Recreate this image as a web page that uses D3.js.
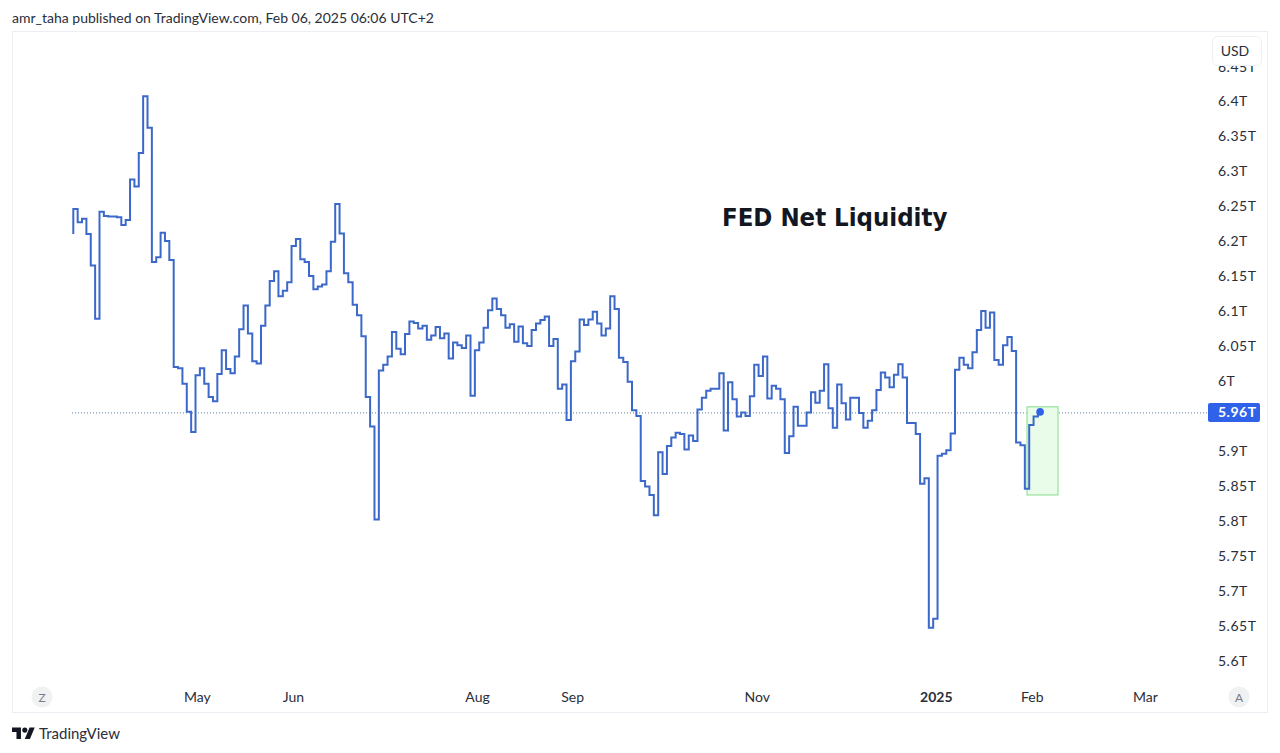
<!DOCTYPE html>
<html><head><meta charset="utf-8">
<script src="https://cdn.jsdelivr.net/npm/d3@7"></script>
<style>
html,body{margin:0;padding:0;background:#fff;overflow:hidden}
svg{display:block}
text{font-family:Lato,Roboto,"Liberation Sans",sans-serif}
</style></head><body>
<svg id="c" width="1280" height="753"></svg>
<script>
const netLiquidity = [
6.209,6.245,6.226,6.231,6.209,6.164,6.088,6.241,6.235,6.234,6.234,6.233,6.222,6.229,6.287,6.277,6.325,6.406,6.361,6.169,6.176,6.211,6.199,6.172,
6.019,6.017,5.995,5.955,5.926,6.007,6.017,5.995,5.976,5.970,6.009,6.043,6.016,6.010,6.034,6.073,6.107,6.067,6.027,6.024,6.078,6.107,
6.142,6.156,6.120,6.128,6.140,6.192,6.202,6.173,6.169,6.149,6.130,6.134,6.137,6.156,6.198,6.252,6.210,6.153,6.140,6.108,6.093,6.063,5.976,5.934,5.801,
6.014,6.022,6.034,6.069,6.045,6.037,6.066,6.084,6.082,6.074,6.078,6.058,6.064,6.076,6.060,6.067,6.031,6.054,6.050,6.046,6.064,5.978,6.043,6.054,6.075,6.100,6.117,6.102,6.093,6.075,6.080,6.055,6.077,6.053,6.049,6.072,6.081,6.086,6.091,6.049,6.059,5.988,5.994,5.943,6.027,6.041,6.087,6.079,6.087,6.098,6.081,6.064,6.074,6.120,6.102,6.032,6.026,5.998,5.957,5.949,5.856,5.848,5.836,5.807,5.897,5.866,5.906,5.918,5.925,5.923,5.901,5.921,5.913,5.958,
5.975,5.985,5.988,5.988,6.010,5.928,5.997,5.973,5.948,5.954,5.949,5.977,6.022,6.006,6.034,5.974,5.992,5.988,5.973,5.896,5.920,5.962,5.935,5.935,5.954,5.983,5.968,5.985,6.023,5.960,5.932,5.994,5.967,5.944,5.975,5.975,5.953,5.932,5.942,5.957,5.986,6.011,6.004,5.990,6.008,6.023,6.004,5.939,5.939,5.923,5.852,5.860,5.646,5.659,5.892,5.895,5.900,5.924,6.015,6.032,6.022,6.017,6.040,6.072,6.099,6.075,6.097,6.029,6.022,6.050,6.062,6.042,5.911,5.907,5.845,5.936,5.948,5.954
];
const yTicks = [5.6,5.65,5.7,5.75,5.8,5.85,5.9,5.95,6,6.05,6.1,6.15,6.2,6.25,6.3,6.35,6.4,6.45];
const yTickLabels = ["5.6T","5.65T","5.7T","5.75T","5.8T","5.85T","5.9T",null,"6T","6.05T","6.1T","6.15T","6.2T","6.25T","6.3T","6.35T","6.4T","6.45T"];
const monthIdx = [28.3,50.3,92.5,114.3,156.6,197.6,219.6,245.5];
const monthLabels = ["May","Jun","Aug","Sep","Nov","2025","Feb","Mar"];
const lastValue = 5.954, lastLabel = "5.96T", lastIdx = 221.5;
const boxValues = [5.962,5.836];
const boxIdx = [218.5,225.6];
const title = "FED Net Liquidity";
const header = "amr_taha published on TradingView.com, Feb 06, 2025 06:06 UTC+2";

const svg = d3.select("#c");
const x = d3.scaleLinear().domain([0, netLiquidity.length-1]).range([73.3,1042.3]);
const y = d3.scaleLinear().domain([5.6,6.4]).range([660,100.5]);

svg.append("text").attr("x",12).attr("y",23).attr("font-size",14).attr("fill","#2a2e39").text(header);
svg.append("rect").attr("x",12.5).attr("y",31.5).attr("width",1255).attr("height",681)
  .attr("fill","#fff").attr("stroke","#eceef3");

// y axis
const yAxis = d3.axisRight(y).tickValues(yTicks.filter((d,i)=>yTickLabels[i]))
  .tickSize(0).tickFormat(d=>yTickLabels[yTicks.indexOf(d)]);
const yg = svg.append("g").attr("transform","translate(1218,1)").call(yAxis);
yg.select(".domain").remove();
yg.selectAll("text").attr("x",0).attr("text-anchor","start").attr("font-size",14)
  .attr("letter-spacing",0.5).attr("fill","#2a2e39").style("font-family","Lato,sans-serif");

// x axis
const xAxis = d3.axisBottom(x).tickValues(monthIdx).tickSize(0)
  .tickFormat(d=>monthLabels[monthIdx.indexOf(d)]);
const xg = svg.append("g").attr("transform","translate(0,690)").call(xAxis);
xg.select(".domain").remove();
xg.selectAll("text").attr("y",0).attr("dy","0.85em").attr("font-size",14)
  .attr("fill","#2a2e39").style("font-family","Lato,sans-serif")
  .attr("font-weight",(d,i)=>monthLabels[i]==="2025"?"700":"400");

// last value dotted line
svg.append("line").attr("x1",72).attr("x2",1208).attr("y1",y(lastValue)+.5).attr("y2",y(lastValue)+.5)
  .attr("stroke","#5f7f9f").attr("stroke-width",1).attr("stroke-dasharray","1 2");

// highlight box
svg.append("rect").attr("x",x(boxIdx[0])).attr("width",x(boxIdx[1])-x(boxIdx[0]))
  .attr("y",y(boxValues[0])).attr("height",y(boxValues[1])-y(boxValues[0]))
  .attr("fill","#e9fbe9").attr("stroke","#97e29a").attr("stroke-width",1.2);

// series
const line = d3.line().x((d,i)=>x(Math.min(i,lastIdx))).y(d=>y(d)).curve(d3.curveStepBefore);
svg.append("path").datum(netLiquidity).attr("d",line).attr("fill","none")
  .attr("stroke","#3c69c9").attr("stroke-width",2).attr("stroke-linejoin","miter");
svg.append("circle").attr("cx",x(lastIdx)).attr("cy",y(lastValue)-.5).attr("r",3.8).attr("fill","#2d62e6");

// annotation
svg.append("text").attr("x",722).attr("y",226).attr("font-size",25.5).attr("font-weight",700)
  .attr("fill","#131722").style("font-family","'DejaVu Sans Condensed','DejaVu Sans',sans-serif").style("font-stretch","condensed").text(title);

// last value tag
const tagY = y(lastValue);
svg.append("rect").attr("x",1208).attr("y",tagY-9.5).attr("width",52).attr("height",19).attr("rx",2).attr("fill","#2f62e8");
svg.append("text").attr("x",1218).attr("y",tagY+5).attr("text-anchor","start").attr("font-size",14)
  .attr("letter-spacing",0.5).attr("font-weight",700).attr("fill","#fff").text(lastLabel);

// USD button
svg.append("rect").attr("x",1212.5).attr("y",36.5).attr("width",49).attr("height",29).attr("rx",5)
  .attr("fill","#fff").attr("stroke","#eef0f3");
svg.append("text").attr("x",1235).attr("y",56).attr("text-anchor","middle").attr("font-size",14).attr("fill","#2a2e39").text("USD");

// corner buttons
[[42,"Z"],[1239,"A"]].forEach(([cx,t])=>{
  svg.append("circle").attr("cx",cx).attr("cy",697).attr("r",10.5).attr("fill","#f0f1f3");
  svg.append("text").attr("x",cx).attr("y",701.5).attr("text-anchor","middle").attr("font-size",12).attr("fill","#787b86").text(t);
});

// logo
const lg = svg.append("g").attr("transform","translate(12,725) scale(0.64)").attr("fill","#131722");
lg.append("path").attr("d","M14 22H7V11H0V4h14v18zM28 22h-8l7.5-18h8L28 22z");
lg.append("circle").attr("cx",20).attr("cy",8).attr("r",4);
svg.append("text").attr("x",39).attr("y",738.5).attr("font-size",15).attr("fill","#2a2e39").text("TradingView");
</script>
</body></html>
